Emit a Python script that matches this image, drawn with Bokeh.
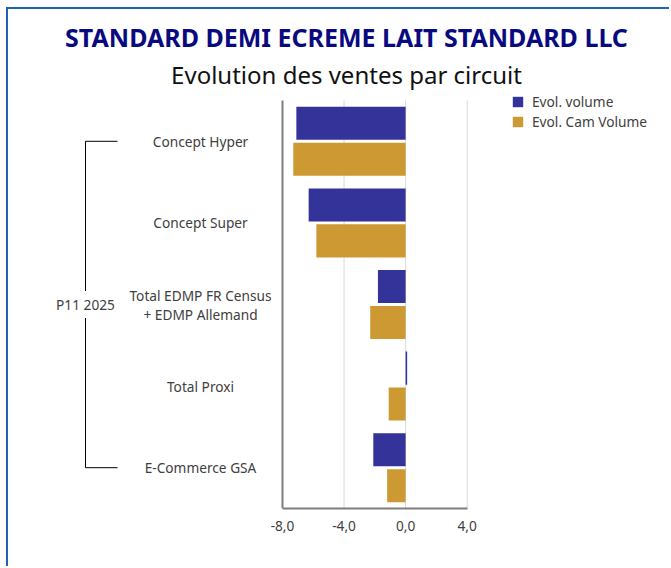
from bokeh.plotting import figure
from bokeh.models import Range1d, FixedTicker, Title, Legend, LegendItem
from bokeh.core.properties import value
from bokeh.embed import file_html
from bokeh.resources import INLINE

# ---------------- data ----------------
categories = ["Concept Hyper", "Concept Super", "Total EDMP FR Census\n+ EDMP Allemand",
              "Total Proxi", "E-Commerce GSA"]
evol_volume = [-7.1, -6.3, -1.8, 0.1, -2.1]
evol_cam_volume = [-7.3, -5.8, -2.3, -1.1, -1.2]
group_label = "P11 2025"
series_names = ["Evol. volume", "Evol. Cam Volume"]
series_colors = ["#333399", "#CC9933"]
x_ticks = [-8, -4, 0, 4]
x_tick_labels = ["-8,0", "-4,0", "0,0", "4,0"]
title_text = "STANDARD DEMI ECREME LAIT STANDARD LLC"
subtitle_text = "Evolution des ventes par circuit"

# ---------------- layout / style ----------------
FONT = "Noto Sans"
TEXT_COLOR = "#404040"
AXIS_COLOR = "#7F7F7F"
GRID_COLOR = "#D9D9D9"
BORDER_COLOR = "#1F63B5"
LABEL_SIZE = "13.7px"
PX_PER_UNIT = 15.39
LEFT_PAD_PX = 237          # frame space left of the axis start
PLOT_H_PX = 408            # height of the bar area
EXTRA_TOP_PX = 10          # frame space above the bar area (room for the legend)
FRAME_W = 602
FRAME_H = PLOT_H_PX + EXTRA_TOP_PX
W, H = 663, 559
ML, MT = 37, 81
MR = W - ML - FRAME_W
MB = H - MT - FRAME_H

n = len(categories)
x_start = x_ticks[0] - LEFT_PAD_PX / PX_PER_UNIT
x_end = x_start + FRAME_W / PX_PER_UNIT
y_end = n + EXTRA_TOP_PX * n / PLOT_H_PX
centers = [n - 0.5 - i for i in range(n)]
DODGE = 0.22
BAR_H = 0.405

p = figure(width=W, height=H, x_range=Range1d(x_start, x_end), y_range=Range1d(0, y_end),
           y_axis_location=None, toolbar_location=None, output_backend="svg", title=None,
           min_border_left=ML, min_border_right=MR, min_border_top=MT, min_border_bottom=MB,
           outline_line_color=None, background_fill_color="white", border_fill_color="white")
p.styles = {"border-top": f"2px solid {BORDER_COLOR}", "border-left": f"2px solid {BORDER_COLOR}",
            "margin-left": "6px", "margin-top": "7px"}

# grid lines (limited to the bar area)
p.xgrid.visible = False
p.ygrid.visible = False
p.segment(x0=x_ticks[1:], y0=0, x1=x_ticks[1:], y1=n, line_color=GRID_COLOR, line_width=1)

# bars
r_vol = p.hbar(y=[c + DODGE for c in centers], left=0, right=evol_volume, height=BAR_H,
               fill_color=series_colors[0], line_color=None)
r_cam = p.hbar(y=[c - DODGE for c in centers], left=0, right=evol_cam_volume, height=BAR_H,
               fill_color=series_colors[1], line_color=None)

# vertical axis line
p.segment(x0=[x_ticks[0]], y0=[0], x1=[x_ticks[0]], y1=[n], line_color=AXIS_COLOR, line_width=2)

# x axis
ax = p.xaxis[0]
ax.ticker = FixedTicker(ticks=x_ticks)
ax.major_label_overrides = {t: l for t, l in zip(x_ticks, x_tick_labels)}
ax.bounds = (x_ticks[0], x_ticks[-1])
ax.axis_line_color = AXIS_COLOR
ax.axis_line_width = 2
ax.major_tick_line_color = None
ax.minor_tick_line_color = None
ax.major_label_standoff = 6
ax.major_label_text_font = FONT
ax.major_label_text_font_size = LABEL_SIZE
ax.major_label_text_color = TEXT_COLOR

# category labels
p.text(x=[x_ticks[0]] * n, y=centers, text=categories, x_offset=-82,
       text_align="center", text_baseline="middle", text_font=value(FONT),
       text_font_size=LABEL_SIZE, text_color=TEXT_COLOR, text_line_height=1.0)

# group bracket
bx = x_ticks[0] - 197 / PX_PER_UNIT
tx = x_ticks[0] - 165 / PX_PER_UNIT
top, bot = centers[0], centers[-1]
p.segment(x0=[bx, bx, bx], y0=[top, top, bot], x1=[bx, tx, tx], y1=[bot, top, bot],
          line_color="black", line_width=1)
p.text(x=[bx], y=[(top + bot) / 2], text=[group_label], text_align="center",
       text_baseline="middle", text_font=value(FONT), text_font_size=LABEL_SIZE,
       text_color=TEXT_COLOR, background_fill_color="white", padding=4)

# titles (subtitle first: it sits closest to the frame)
p.add_layout(Title(text=subtitle_text, align="center", text_font=FONT, text_font_style="normal",
                   text_font_size="24px", text_color="#111111", standoff=0), "above")
p.add_layout(Title(text=title_text, align="center", text_font=FONT, text_font_style="bold",
                   text_font_size="25px", text_color="#0A0A80", standoff=4), "above")

# legend
legend = Legend(items=[LegendItem(label=series_names[0], renderers=[r_vol]),
                       LegendItem(label=series_names[1], renderers=[r_cam])],
                location=(466, FRAME_H - 41), padding=0, margin=0, spacing=1,
                glyph_width=13, glyph_height=13, label_height=14, label_standoff=8,
                label_text_font=FONT, label_text_font_size=LABEL_SIZE, label_text_color=TEXT_COLOR,
                border_line_color=None, background_fill_alpha=0)
p.add_layout(legend)

open("out.html", "w").write(file_html(p, INLINE))
